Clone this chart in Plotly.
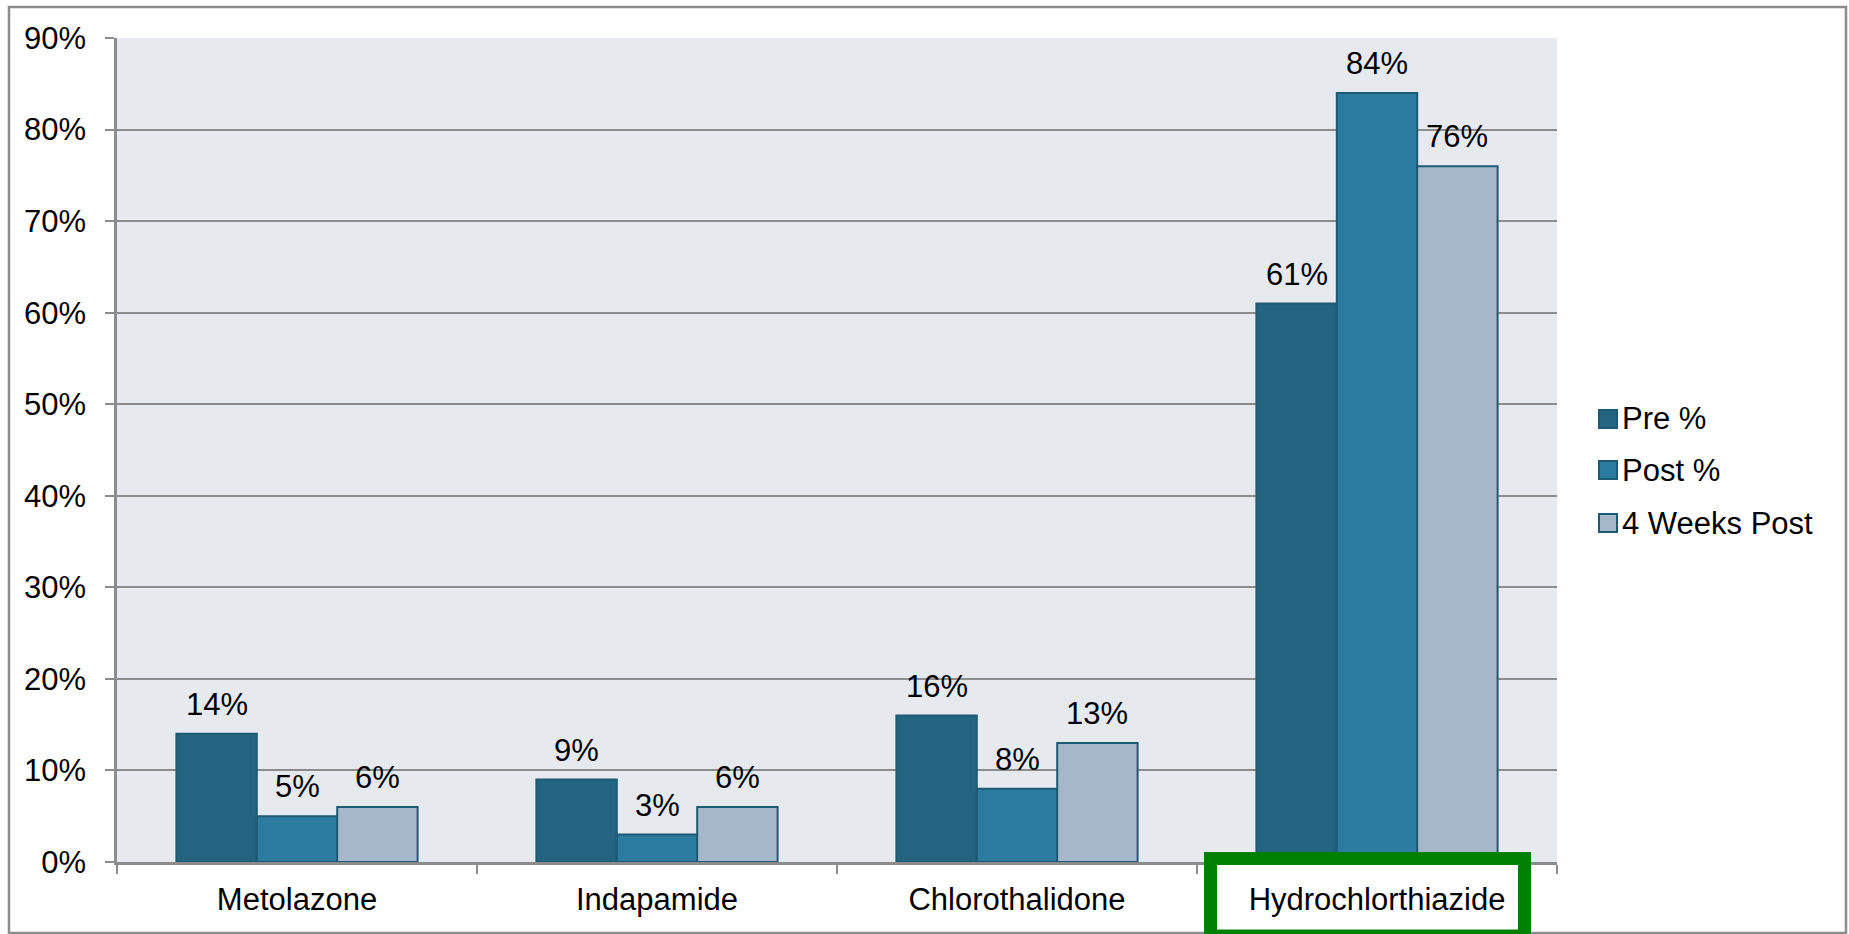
import plotly.graph_objects as go

# Diuretic usage by drug, before / after / 4 weeks after
drugs = ["Metolazone", "Indapamide", "Chlorothalidone", "Hydrochlorthiazide"]
pre = [0.14, 0.09, 0.16, 0.61]
post = [0.05, 0.03, 0.08, 0.84]
weeks4 = [0.06, 0.06, 0.13, 0.76]
series_names = ["Pre %", "Post %", "4 Weeks Post"]
y_ticks = [0.0, 0.1, 0.2, 0.3, 0.4, 0.5, 0.6, 0.7, 0.8, 0.9]

colors = ["#236480", "#2C7BA0", "#A5B8C9"]
edge = "#1E5A74"
FONT = "Liberation Sans, Arial, sans-serif"
FS = 31

W, H = 1849, 934
ML, MR, MT, MB = 117, 292, 38, 72
PW, PH = W - ML - MR, H - MT - MB


def px(x):
    return (x - ML) / PW


def py(y):
    return (H - MB - y) / PH


fig = go.Figure()
all_series = [pre, post, weeks4]
for name, vals, col in zip(series_names, all_series, colors):
    fig.add_trace(go.Bar(
        x=drugs, y=vals, name=name,
        marker=dict(color=col, line=dict(color=edge, width=2)),
        showlegend=False,
    ))

# value labels above each bar
n = len(all_series)
annotations = []
for k, vals in enumerate(all_series):
    for i, v in enumerate(vals):
        annotations.append(dict(
            x=i, y=v, xref="x", yref="y",
            xshift=(k - (n - 1) / 2) * 0.67 * PW / len(drugs) / n,
            text=f"{round(v * 100)}%", showarrow=False,
            yanchor="bottom", yshift=10,
            font=dict(family=FONT, size=FS, color="black"),
        ))

# legend entries
legend_y = [419, 470, 523]
shapes = []
for name, col, yy in zip(series_names, colors, legend_y):
    shapes.append(dict(
        type="rect", xref="paper", yref="paper",
        x0=px(1599), x1=px(1617), y0=py(yy + 9), y1=py(yy - 9),
        fillcolor=col, line=dict(color=edge, width=2),
    ))
    annotations.append(dict(
        x=px(1620), y=py(yy), xref="paper", yref="paper",
        text=name, showarrow=False, xanchor="left", yanchor="middle",
        font=dict(family=FONT, size=FS, color="black"),
    ))

# outer frame
shapes.append(dict(
    type="rect", xref="paper", yref="paper",
    x0=px(9), x1=px(1846), y0=py(933), y1=py(7),
    line=dict(color="#8C8C8C", width=2.5), fillcolor="rgba(0,0,0,0)",
    layer="below",
))
# highlight box around the last category
shapes.append(dict(
    type="rect", xref="paper", yref="paper",
    x0=px(1210.5), x1=px(1524.5), y0=py(936), y1=py(858.5),
    line=dict(color="#008000", width=13), fillcolor="rgba(0,0,0,0)",
    layer="above",
))

fig.update_layout(
    width=W, height=H,
    margin=dict(l=ML, r=MR, t=MT, b=MB),
    paper_bgcolor="white", plot_bgcolor="#E6E9EE",
    barmode="group", bargap=0.33, bargroupgap=0,
    font=dict(family=FONT, size=FS, color="black"),
    shapes=shapes, annotations=annotations,
    showlegend=False,
)
fig.update_xaxes(
    type="category", tickson="boundaries", ticks="outside", ticklen=9,
    tickwidth=2, tickcolor="#8C8C8C", showline=True, linecolor="#8C8C8C",
    linewidth=2.5, showgrid=False, tickfont=dict(family=FONT, size=FS),
    ticklabelstandoff=8,
)
fig.update_yaxes(
    range=[0, 0.9], tickvals=y_ticks, tickformat=".0%",
    ticks="outside", ticklen=9, tickwidth=2, tickcolor="#8C8C8C",
    showline=True, linecolor="#8C8C8C", linewidth=2.5,
    showgrid=True, gridcolor="#8C8C8C", gridwidth=2, zeroline=False,
    tickfont=dict(family=FONT, size=FS), ticklabelstandoff=13,
)

fig.write_html("out.html")
